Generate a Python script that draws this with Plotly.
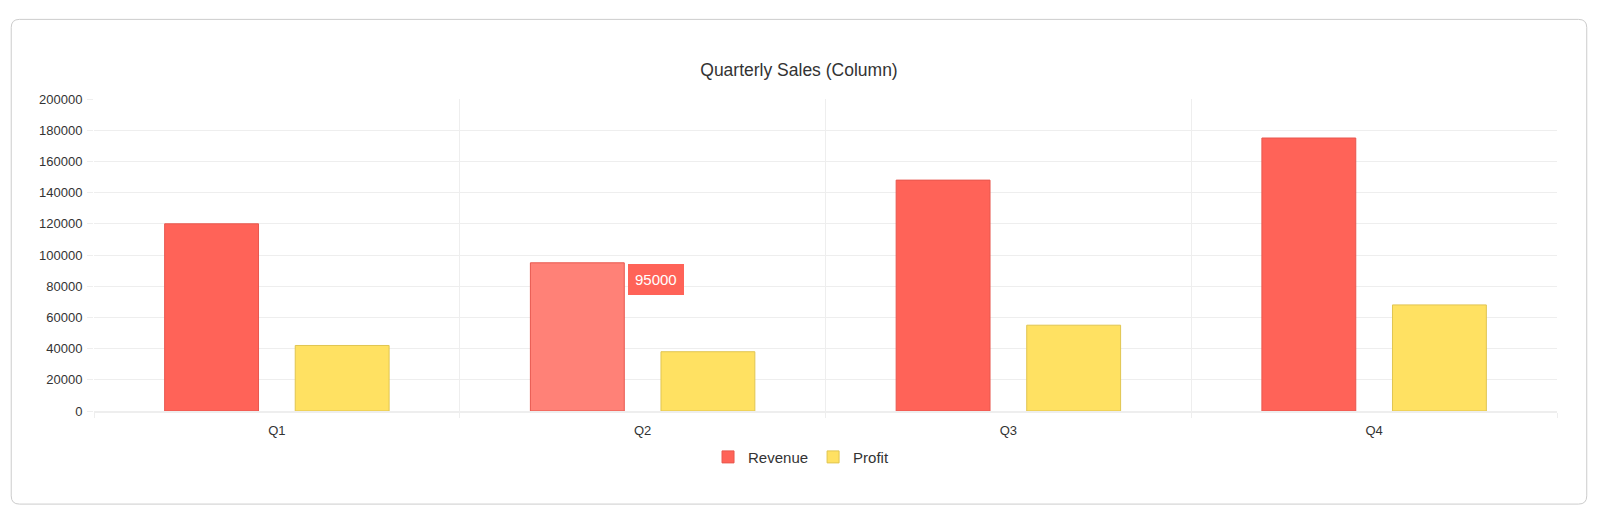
import plotly.graph_objects as go

# chart data
quarters = ["Q1", "Q2", "Q3", "Q4"]
revenue = [120000, 95000, 148000, 175000]
profit = [42000, 38000, 55000, 68000]
y_ticks = list(range(0, 200001, 20000))

# the photo comes out at ~0.98 of the page size, so lay out in reference
# pixels and blow everything up by k
k = 1 / 0.98
W, H = round(1600 * k), round(519 * k)
ml, mr = round(92 * k), W - round(1526 * k)
mt, mb = round(97 * k), H - round(403 * k)
pw, ph = W - ml - mr, H - mt - mb


def px(x):
    return (x * k - ml) / pw


def py(y):
    return (H - mb - y * k) / ph


# card outline (rounded rect) in paper coords, reference pixels
x0, x1, y0, y1, r = 11, 1555, 19, 494, 8
card = (
    f"M {px(x0 + r)} {py(y0)} L {px(x1 - r)} {py(y0)} "
    f"Q {px(x1)} {py(y0)} {px(x1)} {py(y0 + r)} "
    f"L {px(x1)} {py(y1 - r)} Q {px(x1)} {py(y1)} {px(x1 - r)} {py(y1)} "
    f"L {px(x0 + r)} {py(y1)} Q {px(x0)} {py(y1)} {px(x0)} {py(y1 - r)} "
    f"L {px(x0)} {py(y0 + r)} Q {px(x0)} {py(y0)} {px(x0 + r)} {py(y0)} Z"
)

red = "#ff6358"
red_hover = "#ff8177"
yellow = "#ffe162"

fig = go.Figure()
fig.add_trace(go.Bar(
    x=quarters, y=revenue, name="Revenue",
    marker=dict(color=[red_hover if q == "Q2" else red for q in quarters],
                line=dict(color="#e8574e", width=1)),
))
fig.add_trace(go.Bar(
    x=quarters, y=profit, name="Profit",
    marker=dict(color=yellow, line=dict(color="#e0c551", width=1)),
))

# hover tooltip on Q2 revenue
fig.add_annotation(
    x="Q2", y=revenue[1], text=str(revenue[1]), showarrow=False,
    xanchor="left", yanchor="top", xshift=-14 * k, yshift=-1,
    bgcolor=red, bordercolor=red, borderpad=6,
    font=dict(color="white", size=15, family="Liberation Sans"),
)

fig.update_layout(
    width=W, height=H, autosize=False,
    margin=dict(l=ml, r=mr, t=mt, b=mb, autoexpand=False),
    paper_bgcolor="white", plot_bgcolor="white",
    font=dict(family="Liberation Sans", color="#333333", size=13),
    barmode="group", bargap=0.286, bargroupgap=0.281,
    title=dict(text="Quarterly Sales (Column)", x=px(783), xref="paper",
               xanchor="center", y=1 - 68 * k / H, yref="container", yanchor="middle",
               font=dict(size=17.5, color="#333333")),
    legend=dict(orientation="h", x=px(785), xanchor="center",
                y=py(448), yanchor="middle", font=dict(size=15, color="#333333")),
    shapes=[dict(type="path", path=card, xref="paper", yref="paper",
                 line=dict(color="#cccccc", width=1), layer="below")],
)
fig.update_xaxes(
    type="category", tickson="boundaries", showgrid=True, gridcolor="#eeeeee",
    ticks="outside", ticklen=5, tickcolor="#eeeeee", ticklabelstandoff=6,
    showline=True, linecolor="#eeeeee", linewidth=2,
    tickfont=dict(size=13, color="#333333"),
)
fig.update_yaxes(
    range=[0, 200000], tickvals=y_ticks, ticktext=[str(v) for v in y_ticks],
    showgrid=True, gridcolor="#eeeeee", zeroline=False,
    ticks="outside", ticklen=6, tickcolor="#eeeeee", ticklabelstandoff=2,
    tickfont=dict(size=13, color="#333333"),
)

fig.write_html(
    "out.html",
    config={"displayModeBar": False},
    post_script="document.body.style.margin='0';document.body.style.overflow='hidden';",
)
